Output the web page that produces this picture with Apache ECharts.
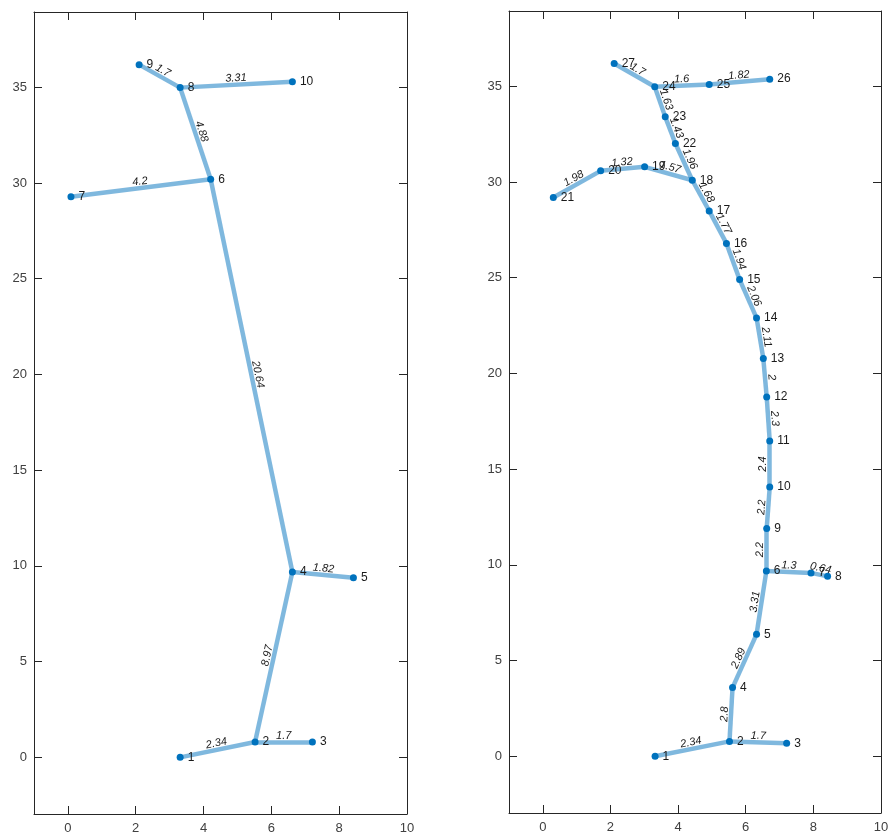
<!DOCTYPE html>
<html><head><meta charset="utf-8">
<script src="https://cdn.jsdelivr.net/npm/echarts@6/dist/echarts.min.js"></script>
<style>html,body{margin:0;padding:0;background:#fff}#c{width:892px;height:839px}</style>
</head><body><div id="c"></div>
<script>
// ---- tick labels ----
const xTicks = [0, 2, 4, 6, 8, 10];
const yTicks = [0, 5, 10, 15, 20, 25, 30, 35];

// ---- left graph ----
const leftX = [3.31, 5.52, 7.21, 6.62, 8.42, 4.21, 0.09, 3.31, 2.10, 6.62];
const leftY = [0, 0.80, 0.80, 9.68, 9.38, 30.19, 29.28, 34.98, 36.18, 35.29];
const leftSrc = [1, 2, 2, 4, 4, 6, 6, 8, 8];
const leftTgt = [2, 3, 4, 5, 6, 7, 8, 9, 10];
const leftLen = [2.34, 1.7, 8.97, 1.82, 20.64, 4.2, 4.88, 1.7, 3.31];

// ---- right graph ----
const rightX = [3.32, 5.52, 7.21, 5.61, 6.32, 6.61, 7.93, 8.42, 6.62, 6.71,
                6.71, 6.62, 6.52, 6.32, 5.82, 5.43, 4.92, 4.42, 3.01, 1.71,
                0.31, 3.92, 3.62, 3.31, 4.92, 6.71, 2.11];
const rightY = [0, 0.78, 0.68, 3.59, 6.37, 9.68, 9.58, 9.40, 11.90, 14.07,
                16.47, 18.77, 20.78, 22.90, 24.90, 26.79, 28.49, 30.09, 30.79, 30.58,
                29.19, 32.01, 33.40, 34.97, 35.09, 35.37, 36.19];
const rightSrc = [1, 2, 2, 4, 5, 6, 7, 6, 9, 10, 11, 12, 13, 14, 15, 16, 17, 18, 19, 20, 18, 22, 23, 24, 25, 24];
const rightTgt = [2, 3, 4, 5, 6, 7, 8, 9, 10, 11, 12, 13, 14, 15, 16, 17, 18, 19, 20, 21, 22, 23, 24, 25, 26, 27];
const rightLen = [2.34, 1.7, 2.8, 2.89, 3.31, 1.3, 0.64, 2.2, 2.2, 2.4, 2.3, 2, 2.11, 2.06, 1.94, 1.77, 1.68, 1.57, 1.32, 1.98, 1.96, 1.43, 1.63, 1.6, 1.82, 1.7];

const FONT = "'Liberation Sans', Arial, sans-serif";
const AXC = '#262626';

function nodes(xs, ys) {
  return xs.map((x, i) => ({ name: String(i + 1), value: [x, ys[i]] }));
}
function links(src, tgt, len) {
  return src.map((s, i) => ({ source: String(s), target: String(tgt[i]), value: len[i] }));
}

function mkX(grid, pos, showLabel) {
  return {
    type: 'value', gridIndex: grid, position: pos, min: -1, max: 10,
    splitLine: { show: false },
    axisLine: { show: true, onZero: false, lineStyle: { color: AXC, width: 1 } },
    axisTick: { show: true, inside: true, length: 8, customValues: xTicks, lineStyle: { color: AXC } },
    axisLabel: { show: showLabel, customValues: xTicks, color: '#404040', fontSize: 13, fontFamily: FONT, margin: 8 }
  };
}
function mkY(grid, pos, showLabel) {
  return {
    type: 'value', gridIndex: grid, position: pos, min: -2.96, max: 38.93,
    splitLine: { show: false },
    axisLine: { show: true, onZero: false, lineStyle: { color: AXC, width: 1 } },
    axisTick: { show: true, inside: true, length: 8, customValues: yTicks, lineStyle: { color: AXC } },
    axisLabel: { show: showLabel, customValues: yTicks, color: '#404040', fontSize: 13, fontFamily: FONT, margin: 7 }
  };
}

function graph(xi, yi, xs, ys, src, tgt, len) {
  return {
    type: 'graph', coordinateSystem: 'cartesian2d', layout: 'none',
    xAxisIndex: xi, yAxisIndex: yi, roam: false,
    symbol: 'circle', symbolSize: 7,
    itemStyle: { color: '#0072BD' },
    label: { show: true, position: 'right', distance: 4, color: '#1a1a1a', fontSize: 12, fontFamily: FONT, formatter: '{b}' },
    lineStyle: { color: 'rgba(0,114,189,0.5)', opacity: 1, width: 4.5, curveness: 0 },
    edgeLabel: { show: true, position: 'middle', distance: 1, color: '#1a1a1a', fontSize: 11, fontStyle: 'italic', fontFamily: FONT,
      formatter: p => String(p.data.value) },
    emphasis: { disabled: true },
    data: nodes(xs, ys),
    links: links(src, tgt, len)
  };
}

const chart = echarts.init(document.getElementById('c'), null, { renderer: 'canvas' });
chart.setOption({
  animation: false,
  backgroundColor: '#ffffff',
  grid: [
    { left: 34, top: 12, width: 373, height: 802 },
    { left: 509, top: 11, width: 372, height: 802 }
  ],
  xAxis: [mkX(0, 'bottom', true), mkX(0, 'top', false), mkX(1, 'bottom', true), mkX(1, 'top', false)],
  yAxis: [mkY(0, 'left', true), mkY(0, 'right', false), mkY(1, 'left', true), mkY(1, 'right', false)],
  series: [
    graph(0, 0, leftX, leftY, leftSrc, leftTgt, leftLen),
    graph(2, 2, rightX, rightY, rightSrc, rightTgt, rightLen)
  ]
});
</script></body></html>
